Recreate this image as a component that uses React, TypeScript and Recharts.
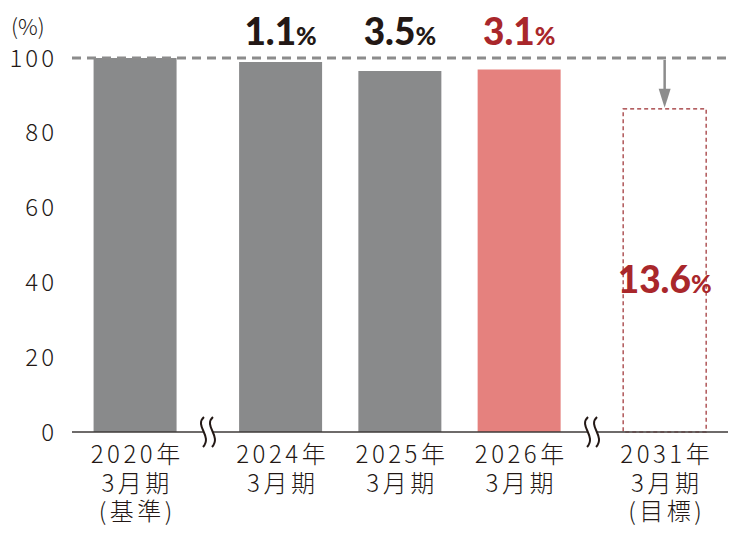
import { Bar, Cell, ComposedChart, LabelList, ReferenceLine, XAxis, YAxis } from "recharts";

// fiscal periods, label lines per category
const periodYears = ["2020年", "2024年", "2025年", "2026年", "2031年"];
const periodNotes = ["(基準)", "", "", "", "(目標)"];
// index value vs. FY2020 (=100)
const ratios = [100, 98.9, 96.5, 96.9, 86.4];
// reduction vs. base year, %
const reductions = [null, "1.1", "3.5", "3.1", "13.6"];
const breakBefore = [false, true, false, false, true];
const yTicks = [0, 20, 40, 60, 80, 100];

const BREAK_GAP = 0.22;
const GREY = "#898a8b";
const PINK = "#e5817e";
const RED = "#a9272b";
const INK = "#231815";
const JP = "'Noto Sans CJK JP', 'Noto Sans', sans-serif";
const NUM = "Lato, 'Noto Sans', sans-serif";

let shift = 0;
const data = ratios.map((ratio, i) => {
  if (breakBefore[i]) shift += BREAK_GAP;
  return { pos: i + shift, ratio, reduction: reductions[i] };
});
const positions = data.map((d) => d.pos);
const breakPositions = data
  .map((d, i) => (breakBefore[i] ? (d.pos + data[i - 1].pos) / 2 : null))
  .filter((p): p is number => p !== null);

const XTick = (props: any) => {
  const { x, y, payload } = props;
  const i = positions.findIndex((p) => Math.abs(p - payload.value) < 1e-6);
  if (i < 0) return null;
  const lines = [periodYears[i], "3月期", periodNotes[i]].filter(Boolean);
  return (
    <text
      x={x + 2}
      y={y + 23}
      textAnchor="middle"
      fill={INK}
      fontFamily={JP}
      fontWeight={300}
      fontSize={24}
      letterSpacing={3.5}
    >
      {lines.map((line, k) => (
        <tspan key={k} x={x + 2} dy={k === 0 ? 0 : 28.5}>
          {line}
        </tspan>
      ))}
    </text>
  );
};

const YTick = (props: any) => {
  const { x, y, payload } = props;
  return (
    <text x={x} y={y + 8.5} textAnchor="end" fill={INK} fontFamily={JP} fontWeight={300} fontSize={24} letterSpacing={3}>
      {payload.value}
    </text>
  );
};

const BreakMark = (props: any) => {
  const { x1, y1, y2 } = props;
  const yb = Math.max(y1, y2);
  const wave = (cx: number) =>
    `M ${cx + 1} ${yb - 15} C ${cx - 9} ${yb - 6}, ${cx + 10} ${yb + 4}, ${cx} ${yb + 15}`;
  return (
    <g>
      <rect x={x1 - 5} y={yb - 3} width={10} height={6} fill="#fff" />
      <path d={wave(x1 - 5)} fill="none" stroke={INK} strokeWidth={2} />
      <path d={wave(x1 + 4)} fill="none" stroke={INK} strokeWidth={2} />
    </g>
  );
};

const renderReduction = (props: any) => {
  const { x, y, width, height, value, index } = props;
  if (value == null) return null;
  const cx = x + width / 2;
  const bottom = y + height;
  const y100 = bottom - (height * 100) / ratios[index];
  const target = index === ratios.length - 1;
  const color = index >= 3 ? RED : INK;
  const label = (
    <text x={cx} textAnchor="middle" fill={color} fontFamily={NUM} fontWeight={900} y={0}>
      <tspan fontSize={37}>{value}</tspan>
      <tspan fontSize={25}>%</tspan>
    </text>
  );
  if (!target) {
    return <g transform={`translate(0, ${y100 - 13})`}>{label}</g>;
  }
  return (
    <g>
      <line x1={cx} y1={y100 + 2} x2={cx} y2={y - 16} stroke="#8c8c8c" strokeWidth={2.5} />
      <polygon points={`${cx - 6},${y - 20} ${cx + 6},${y - 20} ${cx},${y - 1}`} fill="#8c8c8c" />
      <g transform={`translate(0, ${bottom - height * 0.43})`}>{label}</g>
    </g>
  );
};

export default function App() {
  return (
    <div style={{ position: "absolute", left: 0, top: 0, width: 745, height: 536 }}>
      <span
        style={{
          position: "absolute",
          left: 11,
          top: 9,
          fontFamily: JP,
          fontWeight: 300,
          fontSize: 22,
          color: INK,
        }}
      >
        (%)
      </span>
      <ComposedChart width={745} height={536} data={data} margin={{ top: 58, right: 17, bottom: 14, left: 0 }}>
        <XAxis
          type="number"
          dataKey="pos"
          domain={[-0.53, positions[positions.length - 1] + 0.53]}
          ticks={positions}
          axisLine={false}
          tickLine={false}
          tick={<XTick />}
          height={90}
          interval={0}
        />
        <YAxis
          domain={[0, 100]}
          ticks={yTicks}
          axisLine={false}
          tickLine={false}
          tick={<YTick />}
          tickMargin={9}
          width={72}
        />
        <Bar dataKey="ratio" barSize={83} isAnimationActive={false}>
          {data.map((d, i) =>
            i === data.length - 1 ? (
              <Cell key={i} fill="#fff" stroke="#9b2b2e" strokeDasharray="4 3" strokeWidth={1.2} />
            ) : (
              <Cell key={i} fill={i === 3 ? PINK : GREY} />
            )
          )}
          <LabelList dataKey="reduction" content={renderReduction} />
        </Bar>
        <ReferenceLine y={100} stroke="#8c8c8c" strokeWidth={3} strokeDasharray="9 6" />
        <ReferenceLine y={0} stroke="#3e3a39" strokeWidth={1.5} />
        {breakPositions.map((p) => (
          <ReferenceLine key={p} x={p} stroke="none" shape={<BreakMark />} />
        ))}
      </ComposedChart>
    </div>
  );
}
